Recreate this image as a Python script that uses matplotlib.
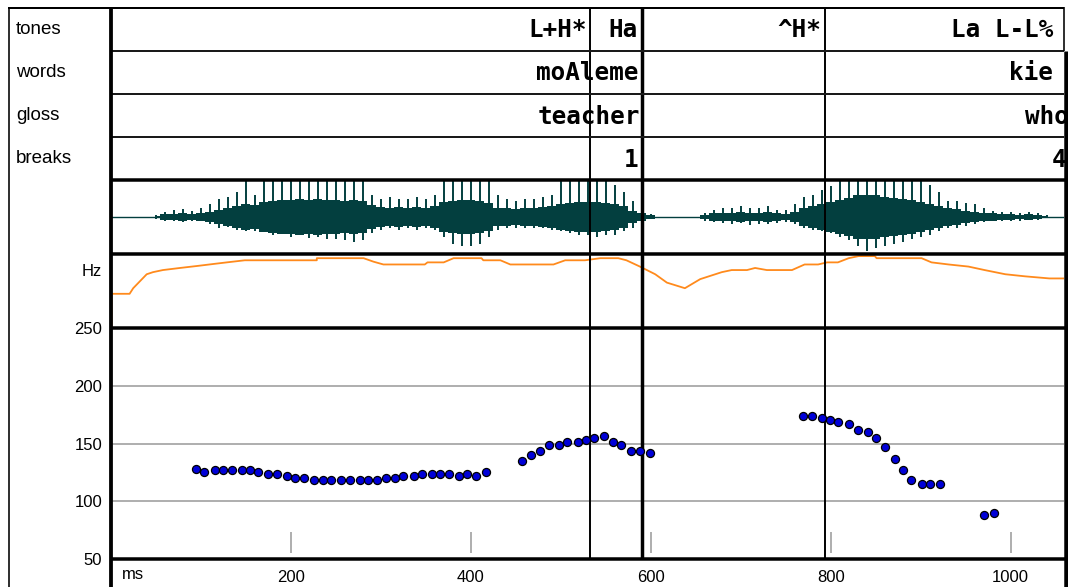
import numpy as np
import matplotlib
matplotlib.use('Agg')
import matplotlib.pyplot as plt

# ---- data ----
# tier labels: (anchor time in ms, text), right aligned on the anchor
tones = [(529, 'L+H*'), (586, 'Ha'), (790, '^H*'), (1047, 'La L-L%')]
words = [(586, 'moAleme'), (1047, 'kie')]
gloss = [(588, 'teacher'), (1065, 'who')]
breaks = [(586, '1'), (1062, '4')]
tier_names = ['tones', 'words', 'gloss', 'breaks']

# label boundaries (ms) and their line weight
bound_ms = [532, 590, 794]
bound_lw = [1.4, 2.5, 1.4]

# waveform envelope, one value every 10 ms from 50 to 1040 ms
wave_ms = np.arange(50, 1041, 10)
wave_hi = [0.05, 0.15, 0.2, 0.22, 0.18, 0.25, 0.35, 0.5, 0.55, 0.7,
           1.0, 0.6, 1.0, 1.0, 1.0, 1.0, 1.0, 1.0, 1.0, 1.0,
           1.0, 1.0, 1.0, 1.0, 0.6, 0.5, 0.55, 0.5, 0.5, 0.55,
           0.5, 0.6, 1.0, 1.0, 1.0, 1.0, 1.0, 1.0, 0.6, 0.5,
           0.45, 0.5, 0.5, 0.55, 0.6, 1.0, 1.0, 1.0, 1.0, 1.0,
           1.0, 0.9, 0.7, 0.45, 0.15, 0.08, 0, 0, 0, 0,
           0, 0.12, 0.2, 0.25, 0.25, 0.3, 0.25, 0.25, 0.3, 0.2,
           0.2, 0.35, 0.55, 0.6, 0.75, 0.85, 1.0, 1.0, 1.0, 1.0,
           1.0, 1.0, 1.0, 1.0, 1.0, 1.0, 0.9, 0.7, 0.45, 0.45,
           0.4, 0.35, 0.25, 0.18, 0.15, 0.15, 0.12, 0.15, 0.1, 0.05]
wave_lo = [-0.05, -0.12, -0.1, -0.13, -0.1, -0.12, -0.2, -0.3, -0.28, -0.35,
           -0.4, -0.38, -0.42, -0.5, -0.45, -0.55, -0.5, -0.58, -0.55, -0.6,
           -0.6, -0.65, -0.7, -0.65, -0.45, -0.35, -0.3, -0.35, -0.3, -0.35,
           -0.3, -0.35, -0.55, -0.75, -0.8, -0.8, -0.75, -0.55, -0.35, -0.3,
           -0.3, -0.3, -0.3, -0.32, -0.35, -0.4, -0.45, -0.5, -0.5, -0.55,
           -0.5, -0.5, -0.4, -0.3, -0.12, -0.06, 0, 0, 0, 0,
           0, -0.1, -0.15, -0.18, -0.2, -0.18, -0.22, -0.2, -0.2, -0.18,
           -0.15, -0.2, -0.3, -0.35, -0.4, -0.45, -0.55, -0.65, -0.8, -0.95,
           -0.85, -0.8, -0.75, -0.7, -0.6, -0.55, -0.5, -0.4, -0.3, -0.3,
           -0.25, -0.2, -0.15, -0.12, -0.1, -0.1, -0.1, -0.08, -0.08, -0.04]
wave_core = [0.04, 0.07, 0.08, 0.1, 0.09, 0.11, 0.14, 0.2, 0.24, 0.3,
             0.36, 0.34, 0.42, 0.45, 0.48, 0.46, 0.5, 0.48, 0.5, 0.47,
             0.48, 0.45, 0.48, 0.44, 0.34, 0.28, 0.26, 0.27, 0.25, 0.27,
             0.26, 0.3, 0.42, 0.45, 0.48, 0.47, 0.45, 0.38, 0.26, 0.24,
             0.23, 0.25, 0.24, 0.27, 0.3, 0.36, 0.38, 0.42, 0.41, 0.42,
             0.39, 0.36, 0.3, 0.18, 0.1, 0.05, 0, 0, 0, 0,
             0, 0.06, 0.1, 0.12, 0.11, 0.13, 0.12, 0.11, 0.13, 0.1,
             0.09, 0.14, 0.24, 0.3, 0.36, 0.42, 0.48, 0.54, 0.6, 0.6,
             0.6, 0.57, 0.54, 0.5, 0.47, 0.42, 0.36, 0.3, 0.24, 0.21,
             0.18, 0.15, 0.12, 0.1, 0.07, 0.08, 0.06, 0.07, 0.05, 0.03]

# smoothed pitch track (relative height in its panel)
track_ms = [1, 1, 21, 25, 40, 47, 58, 77, 97, 116, 129, 149, 229, 229, 281,
            292, 303, 349, 352, 370, 381, 412, 414, 433, 444, 492, 505, 527,
            544, 564, 573, 588, 605, 618, 638, 655, 679, 690, 707, 716, 729,
            757, 771, 786, 796, 808, 820, 831, 849, 851, 901, 912, 931, 953,
            971, 994, 1016, 1043, 1063]
track_val = [0.0, 0.47, 0.47, 0.55, 0.75, 0.78, 0.81, 0.84, 0.87, 0.90, 0.92,
             0.95, 0.95, 0.98, 0.98, 0.93, 0.89, 0.89, 0.92, 0.92, 0.98, 0.98,
             0.95, 0.95, 0.89, 0.89, 0.95, 0.95, 0.98, 0.98, 0.95, 0.86, 0.75,
             0.63, 0.55, 0.68, 0.78, 0.81, 0.81, 0.84, 0.81, 0.81, 0.89, 0.89,
             0.92, 0.92, 0.98, 1.01, 1.01, 0.98, 0.98, 0.92, 0.89, 0.86, 0.81,
             0.75, 0.72, 0.69, 0.69]

# F0 points
f0_ms = [95, 104, 116, 125, 135, 146, 155, 164, 175, 185, 196, 205, 215,
         226, 236, 245, 256, 266, 277, 286, 296, 306, 316, 325, 337, 346,
         357, 366, 376, 387, 396, 406, 417,
         457, 467, 477, 487, 498, 507, 519, 528, 537, 548, 558, 567, 578,
         588, 599,
         769, 779, 790, 799, 808, 820, 830, 841, 850, 860, 871, 880, 889,
         901, 910, 921,
         970, 981]
f0_hz = [127.7, 125.4, 127.4, 127.4, 127.4, 127.4, 127.4, 125.6, 123.6,
         123.6, 122.2, 120.2, 120.2, 118.4, 118.4, 118.4, 118.4, 118.4,
         118.4, 118.4, 118.4, 120.2, 120.2, 122.2, 122.2, 123.6, 123.6,
         123.6, 123.6, 122.2, 123.6, 122.2, 125.6,
         134.9, 140.4, 143.5, 148.7, 148.7, 151.0, 151.0, 153.3, 154.5,
         156.2, 151.0, 148.7, 143.5, 143.5, 141.5,
         173.8, 173.8, 172.3, 170.3, 168.6, 166.9, 161.4, 159.7, 154.5,
         147.0, 136.6, 127.4, 118.4, 115.0, 115.0, 115.0,
         88.2, 90.2]

hz_ticks = [50, 100, 150, 200, 250]
ms_ticks = [200, 400, 600, 800, 1000]

# ---- layout (pixel geometry of the reference) ----
W, H = 1068, 587
X0, X1 = 110.7, 1064
MS_MAX = (X1 - X0) / 0.9

fig = plt.figure(figsize=(W / 100, H / 100), dpi=100)
fig.patch.set_facecolor('white')


def px_axes(x0, y0, x1, y1):
    a = fig.add_axes([x0 / W, 1 - y1 / H, (x1 - x0) / W, (y1 - y0) / H])
    a.set_xlim(0, MS_MAX)
    a.patch.set_alpha(0)
    return a


def boundaries(a):
    for t, lw in zip(bound_ms, bound_lw):
        a.axvline(t, color='black', lw=lw, zorder=5)


mono = dict(family='DejaVu Sans Mono', weight='bold', size=17.5)
sans = 'Liberation Sans'
wave_col = '#033f3f'

# tiers
ax_t = px_axes(X0, 7.5, X1, 180)
ax_t.set_ylim(4, 0)
ax_t.axis('off')
for i, tier in enumerate([tones, words, gloss, breaks]):
    for t, s in tier:
        ax_t.text(t, i + 0.53, s, ha='right', va='center', **mono)
boundaries(ax_t)

# waveform
ax_w = px_axes(X0, 180, X1, 254)
ax_w.set_ylim(-1.03, 1.03)
ax_w.axis('off')
ax_w.axhline(0, color=wave_col, lw=1)
ax_w.vlines(wave_ms, wave_lo, wave_hi, color=wave_col, lw=1.4)
ax_w.fill_between(wave_ms, -np.array(wave_core), wave_core,
                  step='mid', color=wave_col, lw=0)
boundaries(ax_w)

# pitch track
ax_p = px_axes(X0, 254, X1, 328)
ax_p.set_ylim(-0.02, 1.04)
ax_p.axis('off')
ax_p.plot(track_ms, track_val, color='#ff8a1c', lw=1.3)
boundaries(ax_p)

# F0 points
ax_d = px_axes(X0, 328, X1, 559)
ax_d.set_ylim(50, 250)
for s in ax_d.spines.values():
    s.set_visible(False)
ax_d.set_yticks(hz_ticks)
ax_d.set_xticks(ms_ticks)
ax_d.tick_params(length=0, labelsize=12, pad=6)
ax_d.tick_params(axis='x', pad=8)
for lab in ax_d.get_xticklabels() + ax_d.get_yticklabels():
    lab.set_family(sans)
for h in hz_ticks[1:-1]:
    ax_d.axhline(h, color='#a8a8a8', lw=1.3, zorder=1)
ax_d.vlines(ms_ticks, 55, 73, color='#a8a8a8', lw=1.3)
ax_d.plot(f0_ms, f0_hz, 'o', ms=5.8, mfc='#0000d8', mec='black', mew=0.9,
          zorder=6, clip_on=False)
ax_d.annotate('ms', xy=(12, 0), xycoords=('data', 'axes fraction'),
              xytext=(0, -11.5), textcoords='offset points', va='center',
              ha='left', fontsize=12, family=sans)
boundaries(ax_d)

# frame and left labels
ov = fig.add_axes([0, 0, 1, 1], zorder=10)
ov.set_xlim(0, W)
ov.set_ylim(H, 0)
ov.axis('off')
k = 0.72
ov.hlines(7.5, 8, X1, color='black', lw=2 * k)
ov.hlines([51, 94, 137], 110, X1, color='#1a1a1a', lw=2 * k)
ov.hlines([180, 254, 328, 559], 110, W, color='black', lw=3.5 * k)
ov.vlines(8.5, 7, H, color='black', lw=1.6 * k)
ov.vlines(110.5, 7, H, color='black', lw=3.8 * k)
ov.vlines(1063.5, 7, 51, color='black', lw=1.6 * k)
ov.vlines(1066, 51, H, color='black', lw=4.5 * k)
for i, name in enumerate(tier_names):
    ov.text(16, 29 + 43.1 * i, name, ha='left', va='center', fontsize=13.5,
            family=sans)
ov.text(102, 272, 'Hz', ha='right', va='center', fontsize=12, family=sans)

fig.savefig('out.png', dpi=100)
